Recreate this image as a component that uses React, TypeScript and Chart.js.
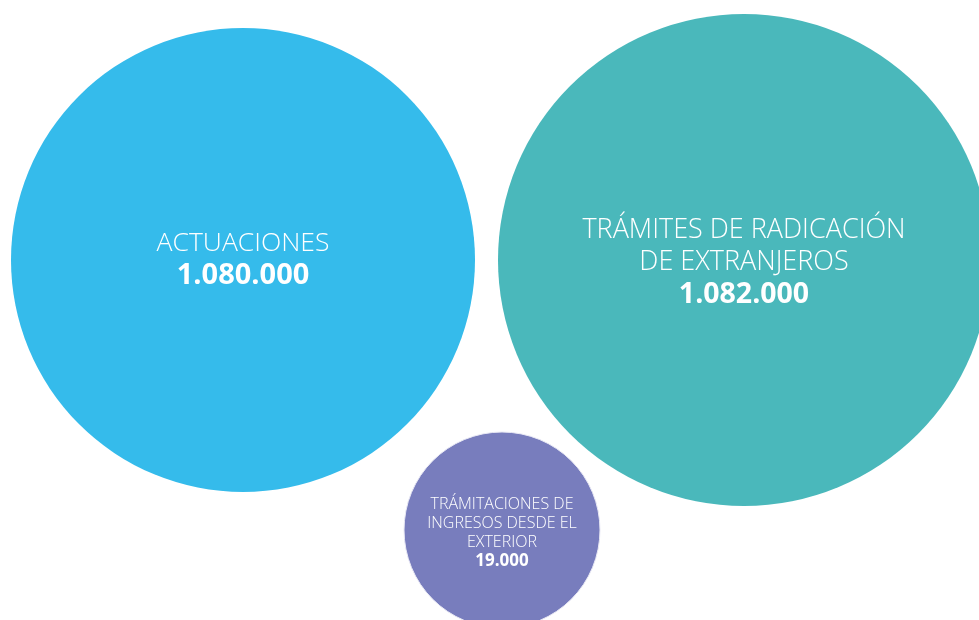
import React, { useEffect, useRef } from "react";
import { Chart, registerables } from "chart.js";

Chart.register(...registerables);

const names: string[][] = [
  ["ACTUACIONES"],
  ["TRÁMITES DE RADICACIÓN", "DE EXTRANJEROS"],
  ["TRÁMITACIONES DE", "INGRESOS DESDE EL", "EXTERIOR"],
];
const valueLabels = ["1.080.000", "1.082.000", "19.000"];
const values = [1080000, 1082000, 19000];
const posX = [243, 744, 502];
const posY = [260, 260, 530];
const radii = [232, 246, 98];
const colors = ["#35bbeb", "#4ab8bb", "#787dbd"];
const nameSizes = [26.5, 27, 16];
const valueSizes = [29, 28.5, 17];
const lineGaps = [32, 32, 19];
const textCenters = [259.5, 262.5, 533];

const labelPlugin = {
  id: "bubbleLabels",
  afterDatasetsDraw(chart: any) {
    const ctx = chart.ctx;
    const meta = chart.getDatasetMeta(0);
    const yScale = chart.scales.y;
    meta.data.forEach((el: any, i: number) => {
      const lines = names[i];
      const gap = lineGaps[i];
      const total = lines.length + 1;
      const cy = yScale.getPixelForValue(textCenters[i]);
      const startY = cy - ((total - 1) * gap) / 2;
      ctx.save();
      ctx.fillStyle = "#ffffff";
      ctx.textAlign = "center";
      ctx.textBaseline = "middle";
      ctx.font = `300 ${nameSizes[i]}px "Open Sans"`;
      lines.forEach((t, j) => ctx.fillText(t, el.x, startY + j * gap));
      ctx.font = `700 ${valueSizes[i]}px "Open Sans"`;
      ctx.fillText(valueLabels[i], el.x, startY + lines.length * gap);
      ctx.restore();
    });
  },
};

export default function App() {
  const ref = useRef<HTMLCanvasElement>(null);
  useEffect(() => {
    if (!ref.current) return;
    const chart = new Chart(ref.current, {
      type: "bubble",
      data: {
        datasets: [
          {
            label: "Trámites",
            data: values.map((v, i) => ({ x: posX[i], y: posY[i], r: radii[i], v })),
            backgroundColor: colors,
            borderColor: ["rgba(0,0,0,0)", "rgba(0,0,0,0)", "#e8e8f4"],
            borderWidth: [0, 0, 1],
            hoverRadius: 0,
            clip: false,
          } as any,
        ],
      },
      options: {
        animation: false,
        responsive: false,
        maintainAspectRatio: false,
        layout: { padding: 0, autoPadding: false },
        plugins: { legend: { display: false }, tooltip: { enabled: false } },
        events: [],
        scales: {
          x: { type: "linear", min: 0, max: 979, display: false },
          y: { type: "linear", min: 0, max: 620, reverse: true, display: false },
        },
      },
      plugins: [labelPlugin],
    });
    return () => chart.destroy();
  }, []);
  return (
    <div style={{ position: "fixed", left: 0, top: 0, width: 979, height: 620, background: "#fff" }}>
      <canvas ref={ref} width={979} height={620} style={{ width: 979, height: 620 }} />
    </div>
  );
}
